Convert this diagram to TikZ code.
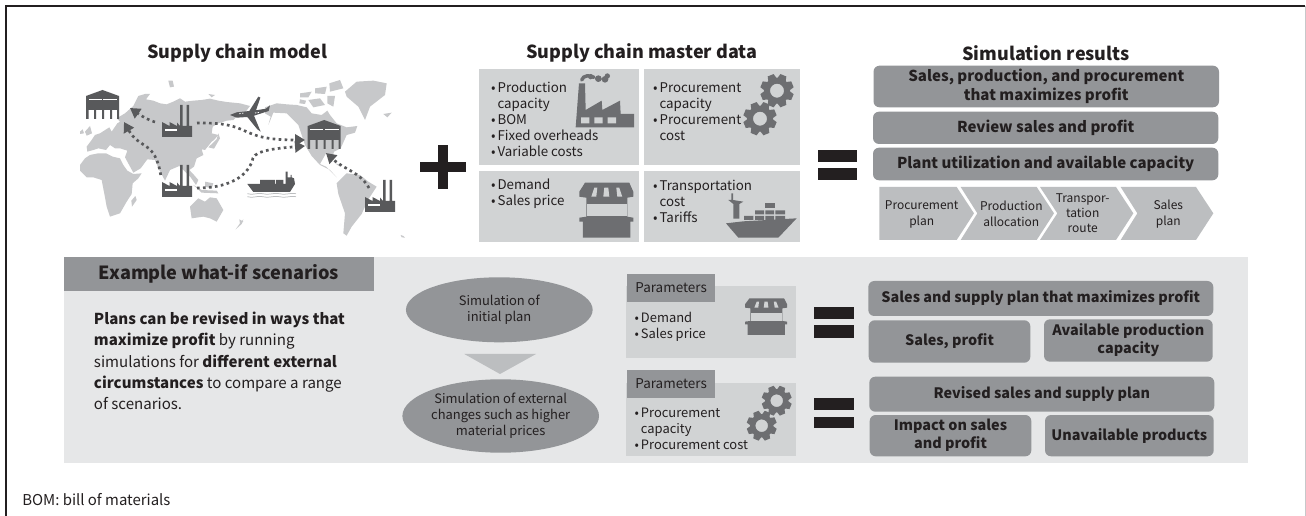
\documentclass[tikz,border=0pt]{standalone}
\usepackage{fontspec}
\setmainfont{Noto Sans CJK JP}
\usetikzlibrary{arrows.meta,shapes.geometric}
\definecolor{dk}{HTML}{231F20}
\definecolor{hd}{HTML}{939598}
\definecolor{panel}{HTML}{E6E7E8}
\definecolor{databox}{HTML}{D1D3D4}
\definecolor{chev}{HTML}{BCBEC0}
\definecolor{mapc}{HTML}{C7C8CA}
\definecolor{ico}{HTML}{6D6E71}
\definecolor{ink}{HTML}{58595B}
\newcommand{\ub}{\leavevmode\llap{•\hspace{1.5pt}}}
\newcommand{\fz}[2]{\fontsize{#1}{#2}\selectfont}
\newcommand{\bx}[7]{\node[#6,minimum width={(#4-#2)*0.75pt},minimum height={(#5-#3)*0.75pt}] (#1) at ({(#2+#4)/2},{(#3+#5)/2}) {#7};}
\tikzset{
 res/.style={fill=hd,rounded corners=4.5pt,inner sep=0pt,align=center,text=dk,font=\fz{10.8}{13.5}\bfseries},
 restop/.style={res,font=\fz{11.3}{14}\bfseries},
 databx/.style={fill=databox,inner sep=0pt},
 tab/.style={fill=hd,inner sep=0pt,text=dk,font=\fz{10.1}{12}},
 eqbar/.style={fill=dk,inner sep=0pt},
 head/.style={font=\fz{13.5}{15}\bfseries,text=dk,inner sep=0pt},
 blist/.style={align=left,anchor=west,inner sep=0pt,text=dk,font=\fz{10}{12}},
 slist/.style={align=left,anchor=west,inner sep=0pt,text=dk,font=\fz{9.7}{12}},
 chevtext/.style={align=center,inner sep=0pt,text=dk,font=\fz{9}{12}},
 ell/.style={ellipse,fill=hd,inner sep=0pt,align=center,text=dk,font=\fz{9.7}{12}},
 route/.style={draw=ink,line width=2pt,dash pattern=on 2pt off 2.5pt,-{Triangle[length=7.5pt,width=8.5pt,fill=ink]}},
 zoomed/.style={shift={(#1)},scale=0.33333},
}
\newcommand{\minifactory}[2]{%
 \begin{scope}[shift={(#1,#2)}]
 \fill[ink] (0,21)--(0,17)--(7.5,21)--(7.5,17)--(15,21)--(15,17.5)--(18,21)--(18,0)--(20.5,0)--(20.5,21)--(24.5,21)--(24.5,0)--(27,0)--(27,21)--(30,21)--(30,32)--(0,32)--cycle;
 \fill[white] (3,24)rectangle(14.5,25.7);
 \end{scope}}
\newcommand{\warehouse}[2]{%
 \begin{scope}[shift={(#1,#2)}]
 \fill[ink] (0,6)--(16.5,0)--(33,6)--(33,29)--(31,29)--(31,20)--(26,20)--(26,29)--(24,29)--(24,20)--(18,20)--(18,29)--(16,29)--(16,20)--(10,20)--(10,29)--(8,29)--(8,20)--(2.5,20)--(2.5,29)--(0,29)--cycle;
 \fill[white] (2.5,9)rectangle(15.5,10.5);
 \fill[white] (17,9)rectangle(31,10.5);
 \end{scope}}
\newcommand{\gearicon}[3]{%
 \begin{scope}[shift={(#1,#2)}]
 \foreach \a in {0,45,...,315}{\fill[ico,rotate=\a+22.5] ({-0.27*#3},{0.7*#3})--({-0.19*#3},#3)--({0.19*#3},#3)--({0.27*#3},{0.7*#3})--cycle;}
 \fill[ico,even odd rule] (0,0) circle [radius={0.78*#3}] (0,0) circle [radius={0.42*#3}];
 \end{scope}}
\newcommand{\shopicon}[5]{%
 \begin{scope}[shift={(#1,#2)},xscale=#3,yscale=#4]
 \fill[ico] (5.7,0)--(50,0)--(54,9)--(54,14)--(48,15)--(48,34)--(54,35)--(54,39)--(51,39)--(51,55)--(3.5,55)--(3.5,39)--(0,39)--(0,35)--(7,34)--(7,15)--(0,14)--(0,9)--cycle;
 \fill[#5] (7.3,21.3)rectangle(47.3,33.3);
 \fill[#5] (15,5)--(18,5)--(17,14)--(12,14)--cycle;
 \fill[#5] (25,5)--(29,5)--(30,14)--(24,14)--cycle;
 \fill[#5] (37,5)--(40,5)--(43,14)--(38,14)--cycle;
 \end{scope}}
\begin{document}
\begin{tikzpicture}[x=0.75pt,y=-0.75pt]
\useasboundingbox (0,0) rectangle (1306,516);
\fill[white] (0,0) rectangle (1306,516);
\draw[line width=0.9pt,dk] (6,516)--(6,6)--(1305,6);
\draw[line width=0.75pt,mapc] (1305.5,6)--(1305.5,516);

% ---------- map
\begin{scope}[zoomed={70,70}]
\fill[mapc] (205,78)--(225,72)--(240,72)--(228,88)--(250,92)--(270,100)--(290,103)--(310,95)--(330,85)--(345,95)--(370,92)--(395,90)--(420,86)--(445,92)--(470,96)--(510,100)--(540,108)--(525,128)--(505,135)--(490,150)--(470,152)--(445,160)--(428,170)--(425,190)--(445,195)--(432,210)--(425,215)--(405,240)--(395,238)--(400,255)--(380,265)--(372,290)--(358,300)--(372,315)--(385,330)--(378,345)--(362,322)--(340,300)--(328,288)--(300,300)--(285,332)--(268,300)--(255,270)--(232,268)--(212,295)--(190,308)--(165,262)--(172,242)--(150,235)--(135,235)--(120,225)--(108,240)--(85,235)--(70,240)--(52,245)--(50,230)--(65,210)--(75,195)--(90,190)--(118,172)--(125,185)--(142,160)--(150,155)--(140,145)--(165,130)--(190,108)--cycle;
\fill[mapc] (30,285)--(45,265)--(60,255)--(85,250)--(108,250)--(128,260)--(150,265)--(160,285)--(172,302)--(190,312)--(215,310)--(205,325)--(188,340)--(185,372)--(170,395)--(150,430)--(120,440)--(110,410)--(105,382)--(95,330)--(70,322)--(50,322)--(30,302)--cycle;
\fill[mapc] (196,378)--(200,390)--(186,410)--(184,392)--cycle;
\fill[mapc] (360,410)--(385,385)--(405,395)--(420,382)--(440,385)--(460,420)--(440,455)--(420,445)--(400,440)--(365,445)--cycle;
\fill[mapc] (45,185)--(60,168)--(66,190)--(50,197)--cycle;
\fill[mapc] (30,185)--(38,178)--(42,190)--(30,192)--cycle;
\fill[mapc] (415,232)--(440,208)--(445,190)--(450,205)--(432,236)--cycle;
\fill[mapc] (370,345)--(395,360)--(440,362)--(445,370)--(395,368)--cycle;
\fill[mapc] (405,335)--(430,340)--(425,355)--(405,350)--cycle;
\fill[mapc] (295,32)--(308,32)--(312,50)--(300,52)--cycle;
\fill[mapc] (415,72)--(435,75)--(425,82)--cycle;
\fill[mapc] (497,478)--(510,460)--(520,448)--(515,462)--cycle;
\end{scope}
\begin{scope}[zoomed={240,70}]
\fill[mapc] (75,112)--(110,100)--(140,103)--(170,105)--(200,112)--(215,130)--(245,135)--(262,122)--(270,135)--(290,160)--(320,172)--(352,168)--(345,188)--(320,195)--(302,235)--(282,245)--(276,265)--(258,250)--(240,282)--(258,290)--(290,322)--(270,300)--(240,285)--(215,258)--(195,225)--(175,165)--(140,130)--(100,128)--(85,165)--(92,140)--(75,130)--cycle;
\fill[mapc] (290,340)--(320,310)--(360,315)--(385,335)--(410,350)--(385,388)--(365,432)--(335,470)--(320,497)--(310,490)--(315,430)--(295,372)--cycle;
\fill[mapc] (315,65)--(350,35)--(400,32)--(440,40)--(435,75)--(390,110)--(375,150)--(355,110)--(320,80)--cycle;
\fill[mapc] (430,132)--(455,128)--(442,142)--cycle;
\fill[mapc] (180,70)--(215,65)--(205,82)--(180,82)--cycle;
\fill[mapc] (225,55)--(260,50)--(255,72)--(225,70)--cycle;
\fill[mapc] (268,40)--(300,30)--(310,55)--(270,65)--cycle;
\fill[mapc] (205,90)--(240,85)--(255,105)--(220,112)--cycle;
\fill[mapc] (262,78)--(285,78)--(280,110)--(262,100)--cycle;
\fill[mapc] (180,88)--(198,92)--(195,102)--(178,100)--cycle;
\fill[mapc] (285,280)--(305,285)--(300,290)--cycle;
\fill[mapc] (482,495)--(490,498)--(495,503)--(485,502)--cycle;
\fill[mapc] (-2,448)--(10,455)--(0,462)--cycle;
\end{scope}

% ---------- plane and small ship
\begin{scope}[zoomed={40,30}]
\fill[ink] (570,255)--(590,247)--(628,243)--(655,200)--(661,203)--(648,241)--(678,236)--(690,226)--(686,243)--(642,257)--(662,305)--(652,298)--(622,261)--(590,263)--cycle;
\draw[white,line width=0.6pt,dash pattern=on 1pt off 1pt] (598,251)--(612,249);
\draw[white,line width=0.6pt,dash pattern=on 1pt off 1pt] (645,249)--(660,247);
\fill[ink] (622,462)--(660,462)--(660,450)--(705,450)--(705,462)--(708,462)--(708,450)--(730,450)--(730,462)--(737,462)--(737,425)--(743,425)--(743,442)--(752,442)--(752,435)--(755,435)--(755,442)--(762,445)--(765,462)--(750,486)--(640,486)--cycle;
\draw[chev,line width=0.55pt] (622,491) .. controls (640,497) and (650,487) .. (668,491) .. controls (685,497) and (700,487) .. (718,491) .. controls (735,497) and (750,487) .. (768,491);
\draw[chev,line width=0.55pt] (622,500) .. controls (640,506) and (650,496) .. (668,500) .. controls (685,506) and (700,496) .. (718,500) .. controls (735,506) and (750,496) .. (768,500);
\end{scope}

% ---------- facilities
\minifactory{162}{105}
\minifactory{162}{165}
\minifactory{365}{180}
\warehouse{86}{90}
\warehouse{307.7}{120}

% ---------- routes
\coordinate (f1l) at (155,122);
\coordinate (w1a) at (130,108);
\coordinate (f2t) at (160.7,175);
\coordinate (w1b) at (124,122);
\coordinate (f1r) at (197,123);
\coordinate (w2a) at (305,140);
\coordinate (f2r) at (197,188);
\coordinate (bend) at (253,158);
\coordinate (w2b) at (305,146);
\coordinate (f3l) at (369,188);
\coordinate (w2c) at (326,153);
\draw[route] (f1l) .. controls (148,120) and (140,115) .. (w1a);
\draw[route] (f2t) .. controls (155,140) and (140,150) .. (w1b);
\draw[route] (f1r) .. controls (255,122) and (235,140) .. (w2a);
\draw[route] (f2r) .. controls (235,188) and (250,172) .. (bend) .. controls (256,150) and (280,148) .. (w2b);
\draw[route] (f3l) .. controls (360,172) and (345,170) .. (w2c);

% ---------- headings
\node[head] (hmodel) at (237.3,52.7) {Supply chain model};
\node[head] (hdata) at (641.7,52.7) {Supply chain master data};
\node[head] (hres) at (1046,52.7) {Simulation results};

% ---------- plus, equals
\fill[dk] (420,162.3) rectangle (465.7,172.3);
\fill[dk] (437.7,145) rectangle (448.3,189);
\bx{eqa}{818}{150}{857.3}{161.7}{eqbar}{}
\bx{eqb}{818}{168.3}{857.3}{180}{eqbar}{}

% ---------- master data
\bx{d1}{479}{69}{639}{165}{databx}{}
\bx{d2}{644}{69}{800}{165}{databx}{}
\bx{d3}{479}{171}{639}{241.7}{databx}{}
\bx{d4}{644}{171}{800}{241.7}{databx}{}
\begin{scope}[zoomed={470,30}]
\fill[ico] (317,292)--(327,160)--(345,160)--(347,240)--(395,212)--(397,240)--(450,212)--(452,252)--(492,252)--(492,292)--cycle;
\fill[databox] (333,262)rectangle(358,280) (373,262)rectangle(398,280) (413,262)rectangle(438,280);
\draw[ico,line width=2.6pt,line cap=round] (335,150) .. controls (340,135) and (360,135) .. (372,142);
\fill[ico] (362,140) circle [radius=8] (385,146) circle [radius=10] (405,148) circle [radius=10] (412,138) circle [radius=8];
\fill[ico] (775,510)--(784,510)--(784,490)--(789,490)--(789,510)--(820,515)--(808,522)--(808,566)--(790,566)--(790,522)--cycle;
\fill[ico] (822,558)rectangle(850,570) (855,558)rectangle(882,570) (886,558)rectangle(912,570) (916,558)rectangle(945,570);
\fill[ico] (855,541)rectangle(882,553) (886,541)rectangle(912,553) (916,541)rectangle(945,553);
\fill[ico] (886,520)rectangle(914,533);
\fill[ico] (768,580)--(820,574)--(980,565)--(925,623)--(805,623)--cycle;
\end{scope}
\gearicon{777}{90.7}{16.7}
\gearicon{760}{118.7}{16.7}
\shopicon{579.3}{182.7}{1}{1}{databox}

\node[blist] (t1) at (497.3,119) {\ub Production\\capacity\\\ub BOM\\\ub Fixed overheads\\\ub Variable costs};
\node[blist] (t2) at (659.3,111.3) {\ub Procurement\\capacity\\\ub Procurement\\cost};
\node[blist] (t3) at (497.3,193.3) {\ub Demand\\\ub Sales price};
\node[blist] (t4) at (659.3,201.3) {\ub Transportation\\cost\\\ub Tariffs};

% ---------- results
\bx{r1}{873.5}{65.7}{1219}{107.3}{restop}{Sales, production, and procurement\\that maximizes profit}
\bx{r2}{873}{111.7}{1218.3}{144}{restop}{Review sales and profit}
\bx{r3}{873}{147.7}{1218.3}{180.3}{restop}{Plant utilization and available capacity}
\begin{scope}[zoomed={870,30}]
\fill[chev] (28,471)--(260,471)--(312,550)--(260,630)--(28,630)--cycle;
\fill[chev] (272,471)--(500,471)--(552,550)--(500,630)--(272,630)--(322,550)--cycle;
\fill[chev] (510,471)--(738,471)--(790,550)--(738,630)--(510,630)--(562,550)--cycle;
\fill[chev] (752,471)--(978,471)--(1030,550)--(978,630)--(752,630)--(802,550)--cycle;
\end{scope}
\node[chevtext] (c1) at (921.7,214.3) {Procurement\\plan};
\node[chevtext] (c2) at (1011.3,214.3) {Production\\allocation};
\node[chevtext,font=\fz{9}{11.2}] (c3) at (1082.7,213.5) {Transpor-\\tation\\route};
\node[chevtext] (c4) at (1168.3,214.3) {Sales\\plan};

% ---------- lower panel
\fill[panel] (64,257) rectangle (1247.7,462.7);
\bx{ex}{64}{257}{374}{291}{fill=hd,inner sep=0pt,text=dk,font=\fz{13.6}{15}\bfseries}{Example what-if scenarios}
\node[anchor=west,align=left,inner sep=0pt,text=dk,font=\fz{11.3}{16}] (para) at (93.7,361) {\textbf{Plans can be revised in ways that}\\\textbf{maximize profit} by running\\simulations for \textbf{different external}\\\textbf{circumstances} to compare a range\\of scenarios.};

\node[ell,minimum width=186.7*0.75pt,minimum height=65*0.75pt] (e1) at (499.3,309.8) {Simulation of\\initial plan};
\node[ell,minimum width=186.7*0.75pt,minimum height=73.4*0.75pt] (e2) at (500.7,416) {Simulation of external\\changes such as higher\\material prices};
\fill[chev] (464.3,354)--(536,354)--(500,374)--cycle;

\bx{p1}{626}{286}{796}{357.7}{databx}{}
\bx{p2}{626}{382.7}{796}{455.7}{databx}{}
\bx{tab1}{627.3}{274}{715}{302}{tab}{Parameters}
\bx{tab2}{627.3}{370}{715}{398}{tab}{Parameters}
\node[slist] (s1) at (640.7,327.3) {\ub Demand\\\ub Sales price};
\node[slist] (s2) at (640.7,429.3) {\ub Procurement\\capacity\\\ub Procurement cost};
\shopicon{745}{298.3}{0.78}{0.667}{databox}
\gearicon{776.7}{400.7}{15}
\gearicon{761.7}{425.7}{15}

\bx{eqc}{814.3}{307.3}{853.7}{319.3}{eqbar}{}
\bx{eqd}{814.3}{325.3}{853.7}{337.7}{eqbar}{}
\bx{eqe}{814.3}{398.3}{853.7}{410}{eqbar}{}
\bx{eqf}{814.3}{416.7}{853.7}{428.3}{eqbar}{}

\bx{b1}{868.3}{281}{1213.3}{316}{res}{Sales and supply plan that maximizes profit}
\bx{b2}{868.7}{320.3}{1030.3}{362.7}{res}{Sales, profit}
\bx{b3}{1044}{319.3}{1212.7}{361.7}{res}{Available production\\capacity}
\bx{b4}{869.3}{376.7}{1214.3}{411.7}{res}{Revised sales and supply plan}
\bx{b5}{869.7}{415}{1031.3}{456.3}{res}{Impact on sales\\and profit}
\bx{b6}{1045}{415}{1213.7}{456.3}{res}{Unavailable products}

\node[anchor=west,inner sep=0pt,text=dk,font=\fz{11.2}{13}] (foot) at (22,500) {BOM: bill of materials};
\end{tikzpicture}
\end{document}
